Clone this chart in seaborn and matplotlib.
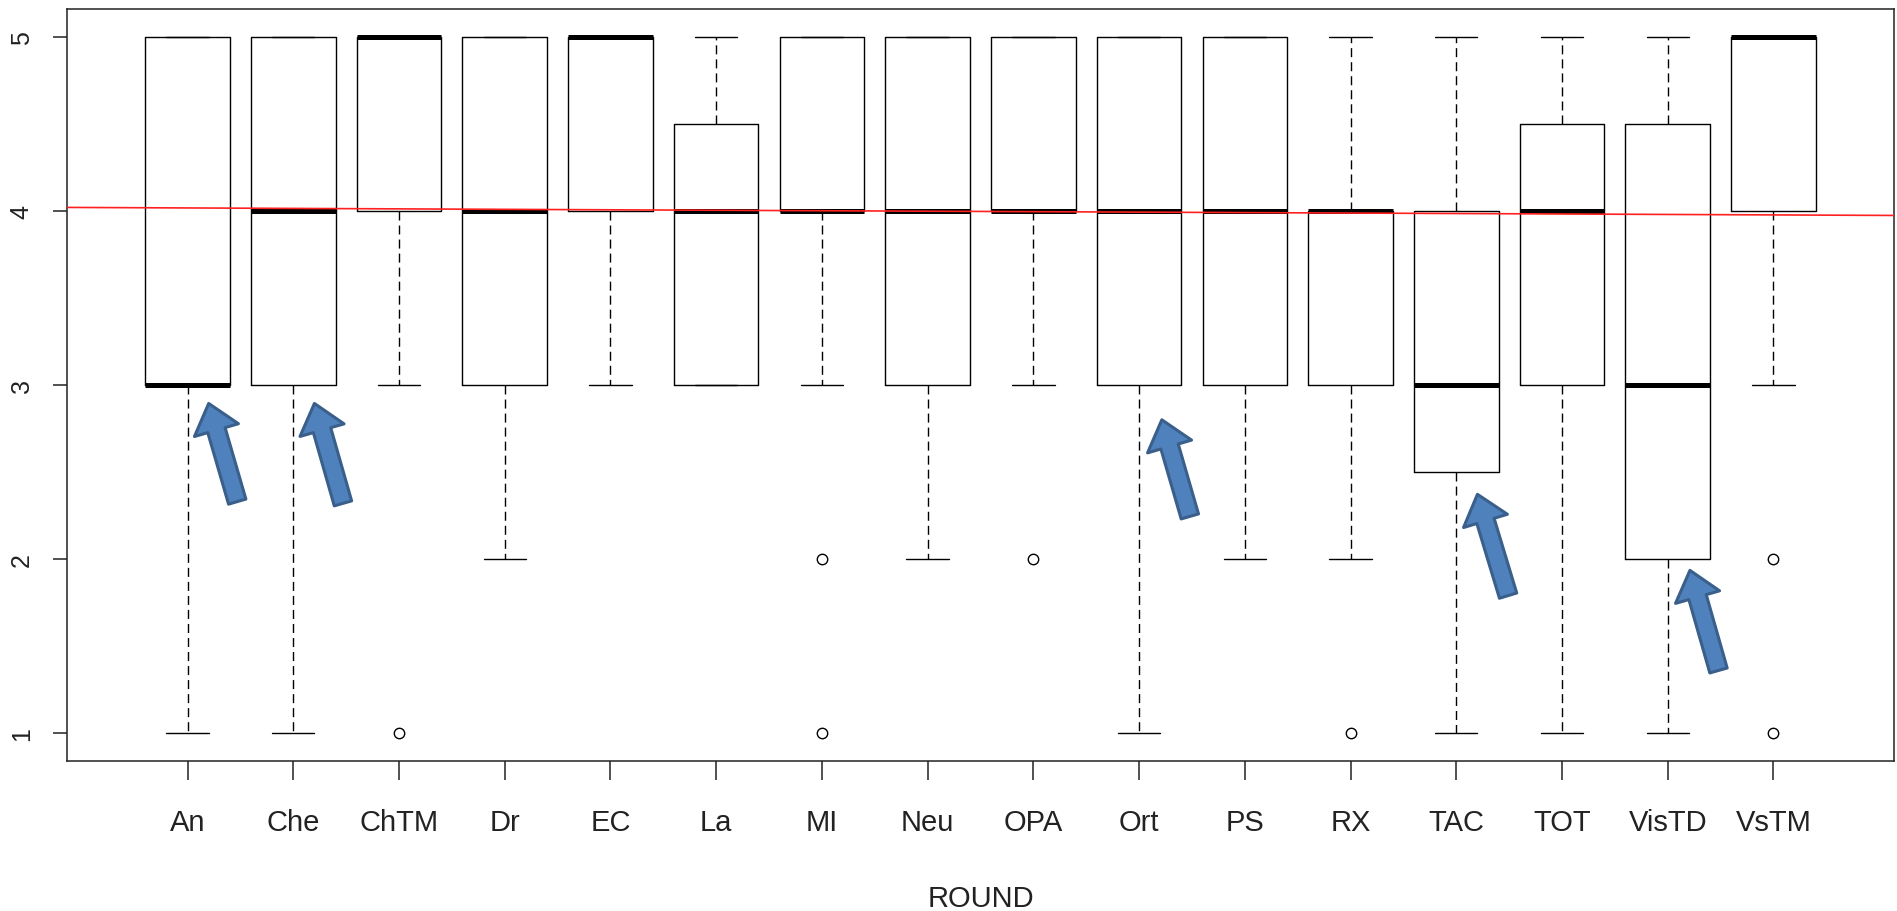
import matplotlib
matplotlib.use("Agg")
import matplotlib.pyplot as plt
from matplotlib.patches import FancyArrowPatch, ArrowStyle
import seaborn as sns

# Box statistics (R-style boxplot)
categories = ["An", "Che", "ChTM", "Dr", "EC", "La", "MI", "Neu",
              "OPA", "Ort", "PS", "RX", "TAC", "TOT", "VisTD", "VsTM"]
q1 = [3, 3, 4, 3, 4, 3, 4, 3, 4, 3, 3, 3, 2.5, 3, 2, 4]
medians = [3, 4, 5, 4, 5, 4, 4, 4, 4, 4, 4, 4, 3, 4, 3, 5]
q3 = [5, 5, 5, 5, 5, 4.5, 5, 5, 5, 5, 5, 4, 4, 4.5, 4.5, 5]
whis_lo = [1, 1, 3, 2, 3, 3, 3, 2, 3, 1, 2, 2, 1, 1, 1, 3]
whis_hi = [5, 5, 5, 5, 5, 5, 5, 5, 5, 5, 5, 5, 5, 5, 5, 5]
outliers = [[], [], [1], [], [], [], [2, 1], [], [2], [], [], [1], [], [], [], [2, 1]]

# red fitted line (intercept, slope)
fit_intercept = 4.0198
fit_slope = -0.00267

# blue annotation arrows: (tail x, tail y) -> (tip x, tip y) in data units
arrow_tails = [(1.47, 2.33), (2.47, 2.32), (10.48, 2.245), (13.49, 1.79), (15.48, 1.36)]
arrow_tips = [(1.20, 2.894), (2.20, 2.894), (10.215, 2.80), (13.20, 2.372), (15.21, 1.935)]

sns.set_theme(style="ticks")
plt.rcParams['font.family'] = ['Liberation Sans Narrow', 'Liberation Sans', 'DejaVu Sans']

fig = plt.figure(figsize=(18.97, 9.12), dpi=100)
ax = fig.add_axes([67 / 1897, 1 - 762 / 912, (1894 - 67) / 1897, 752 / 912])

stats = []
for i, name in enumerate(categories):
    stats.append({
        "label": name,
        "q1": q1[i], "med": medians[i], "q3": q3[i],
        "whislo": whis_lo[i], "whishi": whis_hi[i],
        "fliers": outliers[i],
    })

positions = list(range(1, len(categories) + 1))
ax.bxp(stats, positions=positions, widths=0.8, showfliers=True,
       boxprops=dict(color="black", linewidth=1.0),
       medianprops=dict(color="black", linewidth=3.6, solid_capstyle="butt"),
       whiskerprops=dict(color="black", linewidth=1.0, linestyle=(0, (6.5, 3.6))),
       capprops=dict(color="black", linewidth=1.0),
       flierprops=dict(marker="o", markersize=7.5, markerfacecolor="none",
                       markeredgecolor="black", markeredgewidth=1.0),
       capwidths=0.4)

ax.axline((0, fit_intercept), slope=fit_slope, color="#ff2020", linewidth=1.2, zorder=5)

for tail, tip in zip(arrow_tails, arrow_tips):
    arr = FancyArrowPatch(posA=tail, posB=tip,
                          arrowstyle=ArrowStyle.Simple(head_length=20, head_width=33, tail_width=13),
                          mutation_scale=1, shrinkA=0, shrinkB=0,
                          facecolor="#4f81bd", edgecolor="#3a5f8b", linewidth=2.2,
                          zorder=6)
    ax.add_patch(arr)

ax.set_xlim(-0.14, 17.14)
ax.set_ylim(0.84, 5.16)
ax.set_xticks(positions)
ax.set_xticklabels(categories, fontsize=21)
ax.set_yticks([1, 2, 3, 4, 5])
ax.set_yticklabels(["1", "2", "3", "4", "5"], rotation=90, va="center", fontsize=18,
                   family=['Liberation Sans', 'DejaVu Sans'])

for side in ["top", "right", "bottom", "left"]:
    ax.spines[side].set_visible(True)
    ax.spines[side].set_color("#222222")
    ax.spines[side].set_linewidth(1.1)

ax.tick_params(axis="x", length=13.5, width=1.1, pad=20, colors="#222222")
ax.tick_params(axis="y", length=10, width=1.1, pad=14, colors="#222222")

ax.set_xlabel("ROUND", fontsize=21, color="#222222")
ax.xaxis.set_label_coords(0.5, -(885 - 762) / 752)
ax.xaxis.label.set_va("top")

fig.savefig("out.png", dpi=100)
